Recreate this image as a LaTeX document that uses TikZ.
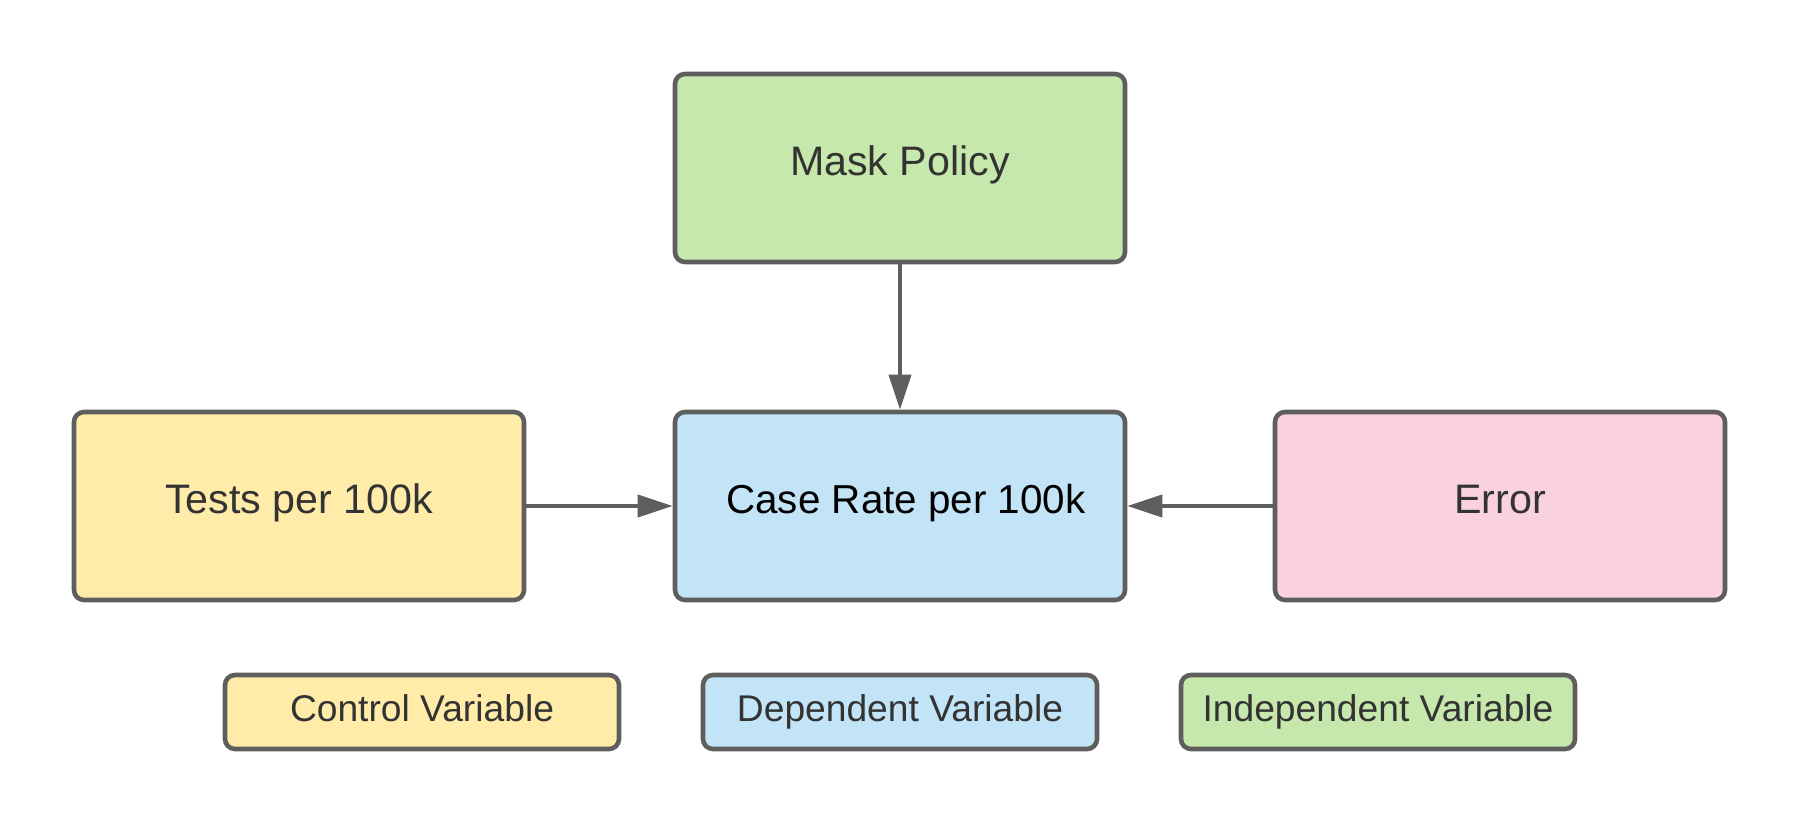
\documentclass[tikz,border=0pt]{standalone}
\usepackage{fontspec}
\setmainfont{Liberation Sans}
\usetikzlibrary{arrows.meta}
\definecolor{bordergray}{HTML}{5E5E5E}
\definecolor{txtgray}{HTML}{333333}
\definecolor{fgreen}{HTML}{C7E8AC}
\definecolor{fyellow}{HTML}{FFECA9}
\definecolor{fblue}{HTML}{C2E4F6}
\definecolor{fpink}{HTML}{F9D2DE}
\begin{document}
\begin{tikzpicture}[x=0.5pt,y=-0.5pt,
  box/.style={draw=bordergray, line width=2.3pt, rounded corners=5pt,
    minimum width=225pt, minimum height=94pt, inner sep=0pt,
    text height=15pt, text depth=7.8pt,
    text=txtgray, font=\fontsize{20.6}{24}\selectfont},
  legendbox/.style={draw=bordergray, line width=2.3pt, rounded corners=5pt,
    minimum width=197pt, minimum height=37pt, inner sep=0pt,
    text height=13.6pt, text depth=3.9pt,
    text=txtgray, font=\fontsize{18.6}{22}\selectfont},
  conn/.style={draw=bordergray, line width=2pt,
    -{Triangle[length=17.5pt,width=11pt]}}]
\useasboundingbox (0,0) rectangle (1800,825);
\node[box, fill=fgreen] (mask) at (900,168) {Mask Policy};
\node[box, fill=fyellow] (tests) at (299,506) {Tests per 100k};
\node[box, fill=fblue, text=black, font=\fontsize{20.2}{24}\selectfont] (case) at (900,506) {\hspace*{6pt}Case Rate per 100k};
\node[box, fill=fpink] (err) at (1500,506) {Error};
\node[legendbox, fill=fyellow] (lc) at (422,712) {Control Variable};
\node[legendbox, fill=fblue] (ld) at (900,712) {Dependent Variable};
\node[legendbox, fill=fgreen] (li) at (1378,712) {Independent Variable};
\draw[conn] (mask) -- (case);
\draw[conn] (tests) -- (case);
\draw[conn] (err) -- (case);
\end{tikzpicture}
\end{document}
